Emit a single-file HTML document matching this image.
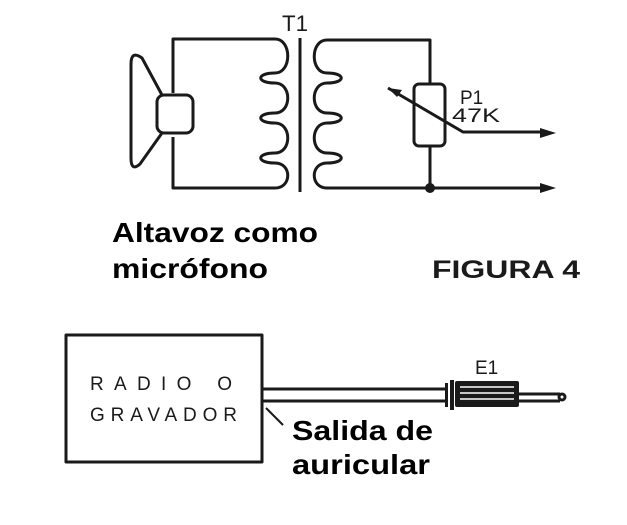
<!DOCTYPE html><html><head><style>body{margin:0;background:#fff}svg{display:block}</style></head><body>
<svg width="627" height="525" viewBox="0 0 627 525" xmlns="http://www.w3.org/2000/svg">
<g fill="none" stroke="#1a1a1a" stroke-width="3" stroke-linejoin="round">
<path d="M173,93 V39 H275 C292,39 292,73 275,73 C256,73 256,83 275,83 C292,83 292,113 275,113 C256,113 256,123 275,123 C292,123 292,153 275,153 C256,153 256,163 275,163 C292,163 292,188 275,188 H173 V137"/>
<path d="M300,38 V192" />
<path d="M430,84 V40 H327 C310,40 310,73 327,73 C346,73 346,83 327,83 C310,83 310,113 327,113 C346,113 346,123 327,123 C310,123 310,153 327,153 C346,153 346,163 327,163 C310,163 310,188 327,188 H550"/>
<rect x="414" y="84" width="31" height="62" rx="5"/>
<path d="M430,146 V188"/>
<path d="M388,88 L463,132 H548"/>
<rect x="157" y="95" width="36" height="38" rx="7"/>
<path d="M162,95 L142,58 Q131,50 131,64 V158 Q131,172 140,164 L162,133"/>
<rect x="66" y="335" width="196" height="127"/>
<path d="M262,389 H447 M262,401 H447"/>
<path d="M266,408 L283,425" stroke-width="2"/>
<path d="M518,394 H560 M518,401 H560"/>
<circle cx="562" cy="397" r="3"/>
</g>
<g fill="#1a1a1a">
<polygon points="388,88 402,90 397,97"/>
<polygon points="540,128 556,133 540,138"/>
<polygon points="540,183 556,188 540,193"/>
<circle cx="430" cy="188" r="5"/>
<rect x="445" y="383" width="3" height="24"/>
<rect x="450" y="380" width="4" height="30"/>
<rect x="455" y="381" width="64" height="26" rx="2"/>
</g>
<g stroke="#fff" stroke-width="1.5"><path d="M460,387 H514 M460,393 H514 M460,399 H514"/></g>
<g font-family="Liberation Sans, sans-serif" fill="#1a1a1a">
<text x="282" y="31" font-size="22" textLength="26" lengthAdjust="spacingAndGlyphs">T1</text>
<text x="460" y="104" font-size="19">P1</text>
<text x="452" y="122" font-size="19" textLength="48" lengthAdjust="spacingAndGlyphs">47K</text>
<text x="475" y="374" font-size="19">E1</text>
<text x="90" y="390" font-size="19" textLength="142" lengthAdjust="spacing">RADIO O</text>
<text x="90" y="421" font-size="19" textLength="147" lengthAdjust="spacing">GRAVADOR</text>
<text x="432" y="278" font-size="25" font-weight="bold" textLength="148" lengthAdjust="spacingAndGlyphs">FIGURA 4</text>
</g>
<g font-family="Liberation Sans, sans-serif" fill="#000" font-weight="bold" font-size="28">
<text x="112" y="242" textLength="206" lengthAdjust="spacingAndGlyphs">Altavoz como</text>
<text x="112" y="278" textLength="156" lengthAdjust="spacingAndGlyphs">micrófono</text>
<text x="292" y="440" textLength="141" lengthAdjust="spacingAndGlyphs">Salida de</text>
<text x="292" y="474" textLength="138" lengthAdjust="spacingAndGlyphs">auricular</text>
</g>
</svg>
</body></html>
